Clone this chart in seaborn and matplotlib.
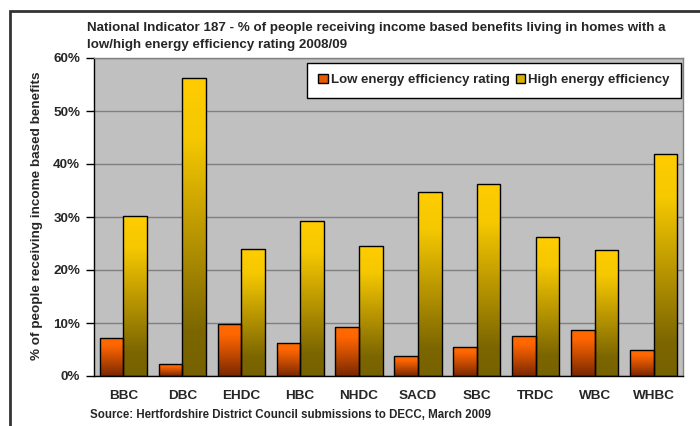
import numpy as np
import pandas as pd
import matplotlib
matplotlib.use("Agg")
import matplotlib.pyplot as plt
import seaborn as sns
from matplotlib.colors import LinearSegmentedColormap
from matplotlib.patches import Patch, Rectangle

categories = ["BBC", "DBC", "EHDC", "HBC", "NHDC", "SACD", "SBC", "TRDC", "WBC", "WHBC"]
low_values = [7.2, 2.2, 9.8, 6.2, 9.2, 3.7, 5.5, 7.5, 8.7, 4.9]
high_values = [30.1, 56.2, 24.0, 29.2, 24.5, 34.7, 36.2, 26.2, 23.7, 41.9]
series_names = ["Low energy efficiency rating", "High energy efficiency"]
y_ticks = [0, 10, 20, 30, 40, 50, 60]
y_tick_labels = ["0%", "10%", "20%", "30%", "40%", "50%", "60%"]

title_line1 = "National Indicator 187 - % of people receiving income based benefits living in homes with a"
title_line2 = "low/high energy efficiency rating 2008/09"
ylabel = "% of people receiving income based benefits"
source = "Source: Hertfordshire District Council submissions to DECC, March 2009"

df = pd.DataFrame({
    "category": categories * 2,
    "series": [series_names[0]] * len(categories) + [series_names[1]] * len(categories),
    "value": low_values + high_values,
})

sns.set_style("white")
plt.rcParams["font.family"] = ["Liberation Sans", "DejaVu Sans"]
plt.rcParams["font.weight"] = "bold"

FS = 9.7
W, H = 700, 426
fig = plt.figure(figsize=(W / 100, H / 100), dpi=100)
L, R, T, B = 94, 683, 58, 376
ax = fig.add_axes([L / W, 1 - B / H, (R - L) / W, (B - T) / H])
ax.set_facecolor("#C0C0C0")

sns.barplot(data=df, x="category", y="value", hue="series", hue_order=series_names,
            order=categories, ax=ax, width=0.8, gap=0, edgecolor="black", linewidth=1.0,
            legend=False, saturation=1, palette=["#FF6600", "#FFCC00"])

ax.set_axisbelow(True)
ax.yaxis.grid(True, color="#808080", linewidth=1.0)

cmap_low = LinearSegmentedColormap.from_list("low", [(0, "#782800"), (0.45, "#C84C00"), (0.8, "#FF6600"), (1, "#FF6A00")])
cmap_high = LinearSegmentedColormap.from_list("high", [(0, "#766200"), (0.15, "#7C6600"), (0.5, "#BE9A00"), (0.8, "#F5C800"), (1, "#FFCC00")])
grad = np.linspace(0, 1, 256).reshape(-1, 1)
for cont, cm in zip(ax.containers, [cmap_low, cmap_high]):
    for p in cont.patches:
        x0, y0 = p.get_x(), p.get_y()
        w, h = p.get_width(), p.get_height()
        im = ax.imshow(grad, cmap=cm, origin="lower", aspect="auto",
                       extent=[x0, x0 + w, y0, y0 + h], zorder=p.get_zorder() - 0.05,
                       interpolation="bilinear")
        im.set_clip_path(p)
        p.set_facecolor("none")
ax.set_xlim(-0.5, len(categories) - 0.5)
ax.set_ylim(0, 60)

ax.set_yticks(y_ticks)
ax.set_yticklabels(y_tick_labels, fontsize=FS, fontweight="bold")
ax.set_xticks(range(len(categories)))
ax.set_xticklabels(categories, fontsize=FS, fontweight="bold")
ax.set_xticks(np.arange(-0.5, len(categories)), minor=True)
ax.tick_params(axis="x", which="major", length=0, pad=10)
ax.tick_params(axis="x", which="minor", length=5, width=1, color="black", direction="out")
ax.tick_params(axis="y", which="major", length=6, width=1, color="black", direction="out", pad=4, left=True)
ax.set_xlabel("")
ax.set_ylabel("")

for s in ["top", "right"]:
    ax.spines[s].set_color("#808080")
    ax.spines[s].set_linewidth(1)
for s in ["left", "bottom"]:
    ax.spines[s].set_color("black")
    ax.spines[s].set_linewidth(1)

handles = [Patch(facecolor="#E85A00", edgecolor="black", linewidth=1),
           Patch(facecolor="#D8B000", edgecolor="black", linewidth=1)]
leg = ax.legend(handles, series_names, loc="upper right", ncol=2, frameon=True,
                fancybox=False, edgecolor="black", framealpha=1, facecolor="white",
                prop={"weight": "bold", "size": 9.5}, handlelength=0.7, handleheight=0.7,
                handletextpad=0.25, columnspacing=0.45, borderpad=0.85, borderaxespad=0,
                bbox_to_anchor=((681 - L) / (R - L), (B - 63) / (B - T)))
leg.get_frame().set_linewidth(1)

fig.text(87 / W, 1 - 30.7 / H, title_line1, ha="left", va="baseline", fontsize=9.6, fontweight="bold")
fig.text(87 / W, 1 - 48.3 / H, title_line2, ha="left", va="baseline", fontsize=9.6, fontweight="bold")
fig.text(37 / W, 1 - 216 / H, ylabel, rotation=90, ha="center", va="center",
         fontsize=FS, fontweight="bold")
fig.text(90 / W, 1 - 418.3 / H, source, ha="left", va="baseline", fontsize=8.3, fontweight="bold")

fig.patches.append(Rectangle((10 / W, -0.1), 1.2, (H - 11) / H + 0.1, transform=fig.transFigure,
                             fill=False, edgecolor="#333333", linewidth=2))

fig.savefig("out.png", dpi=100)
